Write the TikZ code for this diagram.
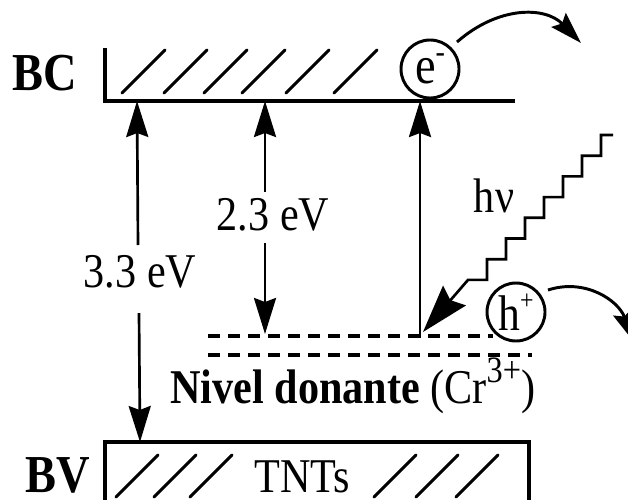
\documentclass[tikz,border=0pt]{standalone}
\usepackage{fontspec}
\setmainfont{Liberation Serif}
\usetikzlibrary{arrows.meta}

\newcommand{\supx}[3]{\raisebox{#1}{\fontsize{#2}{#2}\selectfont #3}}
\newcommand{\tall}[1]{\scalebox{1}[1.15]{#1}}

\begin{document}
\begin{tikzpicture}[x=0.025cm, y=-0.025cm,
  band/.style={line width=2.3pt},
  hatch/.style={line width=2.1pt, line cap=round},
  level/.style={line width=3pt, dash pattern=on 0.3cm off 0.2cm},
  arr/.style={-{Stealth[length=9mm, width=5.5mm, inset=1mm]}, line width=1.9pt},
  harr/.style={-{Stealth[length=12mm, width=7.5mm, inset=1.5mm]}, line width=1.9pt},
  carr/.style={-{Stealth[length=8mm, width=5mm, inset=1.2mm]}, line width=2.1pt},
  lbl/.style={inner sep=0pt, font=\fontsize{30}{36}\selectfont},
  blbl/.style={inner sep=0pt, font=\fontsize{33}{40}\selectfont\bfseries},
  carrier/.style={circle, draw, line width=2.1pt, minimum size=1.45cm, inner sep=0pt,
                  font=\fontsize{33}{40}\selectfont}
]
  \useasboundingbox (0,0) rectangle (628,499);

  % bands
  \coordinate (bct) at (105,48);
  \coordinate (bce) at (515,101);
  \coordinate (bvl) at (105,510);
  \coordinate (bvr) at (529,442);
  \coordinate (bvb) at (529,510);
  \draw[band] (bct) |- (bce);
  \draw[band] (bvl) |- (bvr) -- (bvb);
  \foreach \x in {122,164,204,242,286,334}
    \draw[hatch] (\x,93) -- ++(43,-43);
  \foreach \x in {116,154,190,374,416,456}
    \draw[hatch] (\x,497) -- ++(42,-42);

  % donor level
  \coordinate (l1a) at (208,336);
  \coordinate (l1b) at (493,336);
  \coordinate (l2a) at (208,355);
  \coordinate (l2b) at (532,355);
  \draw[level] (l1a) -- (l1b);
  \draw[level] (l2a) -- (l2b);

  \node[blbl, anchor=base west] (bc) at (12,90) {\tall{BC}};
  \node[blbl, anchor=base west] (bv) at (25,492) {\tall{BV}};
  \node[lbl, anchor=base] (tnt) at (302,492) {\tall{TNTs}};
  \node[carrier] (el) at (430,69) {\tall{e\supx{0.4em}{20}{-}}};
  \node[carrier, font=\fontsize{31}{36}\selectfont] (ho) at (516,312) {\tall{h\supx{0.42em}{17}{+}}};
  \node[lbl, anchor=base] (g33) at (140,287) {\tall{3.3 eV}};
  \node[lbl, anchor=base] (g23) at (273,230) {\tall{2.3 eV}};
  \node[lbl, anchor=base] (hv) at (494,212) {\tall{hν}};
  \node[lbl, anchor=base west] (don) at (170,403) {\tall{\textbf{Nivel donante} (Cr\supx{0.43em}{23}{3+})}};

  % transitions
  \coordinate (c33) at (137,101);
  \coordinate (t33) at (138,245);
  \coordinate (b33) at (139,313);
  \coordinate (v33) at (140,442);
  \draw[arr] (t33) -- (c33);
  \draw[arr] (b33) -- (v33);

  \coordinate (c23) at (265,101);
  \coordinate (t23) at (265,192);
  \coordinate (b23) at (265,243);
  \coordinate (d23) at (265,334);
  \draw[arr] (t23) -- (c23);
  \draw[arr] (b23) -- (d23);

  \coordinate (d42) at (420,338);
  \coordinate (c42) at (420,101);
  \draw[arr] (d42) -- (c42);

  \coordinate (hvs) at (613,135);
  \coordinate (hvt) at (423,332);
  \draw[harr] (hvs) -- ++(-12,0)
    foreach \i in {1,...,7} { -- ++(0,20.7) -- ++(-19,0) } -- (hvt);

  \coordinate (ea) at (457,42);
  \coordinate (eb) at (581,43);
  \draw[carr] (ea) .. controls (498,6) and (545,6) .. (eb);
  \coordinate (ha) at (548,290);
  \coordinate (hb) at (634,342);
  \draw[carr] (ha) .. controls (585,278) and (618,300) .. (hb);
\end{tikzpicture}
\end{document}
